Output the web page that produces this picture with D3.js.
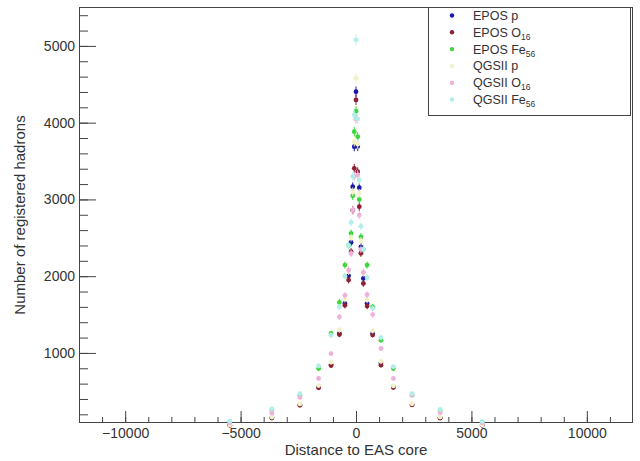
<!DOCTYPE html>
<html><head><meta charset="utf-8">
<script src="https://cdn.jsdelivr.net/npm/d3@7"></script>
<style>
html,body{margin:0;padding:0;background:#fff;}
svg{display:block;font-family:"Liberation Sans",Arial,sans-serif;}
</style></head>
<body>
<svg id="chart" width="640" height="461"></svg>
<script>
// ---- data ----
const distance = [-5468,-3645,-2430,-1620,-1080,-720,-480,-320,-213,-142,-75,0,75,142,213,320,480,720,1080,1620,2430,3645,5468];
const eposP  = [60,160,327,557,850,1253,1645,2005,2440,3166,3687,4404,3690,3153,2383,1971,1645,1253,870,557,327,158,62];
const eposO  = [58,152,318,545,835,1240,1620,1949,2318,2860,3405,4296,3361,2905,2300,1906,1610,1235,840,548,322,150,57];
const eposFe = [100,255,449,797,1253,1658,2144,2400,2558,3048,3883,4150,3818,3000,2513,2350,2144,1600,1166,797,449,250,98];
const qgsP   = [62,165,335,575,880,1300,1700,2060,2500,3100,3750,4579,3720,3080,2460,2040,1690,1290,890,570,338,165,62];
const qgsO   = [88,215,420,667,992,1470,1750,2080,2297,2862,3300,4048,3320,2796,2350,2050,1760,1500,1058,667,449,220,90];
const qgsFe  = [110,270,470,830,1230,1600,2000,2400,2700,3300,4100,5079,4050,3250,2650,2350,1980,1580,1200,820,470,265,108];
const seriesNames = ["EPOS p","EPOS O","EPOS Fe","QGSII p","QGSII O","QGSII Fe"];
const seriesSubs  = ["","16","56","","16","56"];
const seriesColors = ["#1a1aa8","#8e2035","#3dd63d","#f2f2c8","#f0b0dc","#b0eeea"];
const seriesValues = [eposP,eposO,eposFe,qgsP,qgsO,qgsFe];
const xMajorTicks = [-10000,-5000,0,5000,10000];
const yMajorTicks = [1000,2000,3000,4000,5000];

// ---- layout ----
const L = 79, R = 633, T = 7, B = 423;
const svg = d3.select("#chart");
const x = d3.scaleLinear().domain([-12000,12000]).range([L,R]);
const y = d3.scaleLinear().domain([87,5507]).range([B,T]);
const axisCol = "#444";

// frame
svg.append("rect").attr("x",L+0.5).attr("y",T+0.5).attr("width",R-L-1).attr("height",B-T-1)
  .attr("fill","none").attr("stroke",axisCol).attr("stroke-width",1);

// x axis ticks (inward)
const xMinor = d3.range(-11000,11001,1000);
const gx = svg.append("g").attr("transform",`translate(0,${B})`);
gx.call(d3.axisBottom(x).tickValues(xMinor).tickSize(-6).tickFormat(""))
  .call(g=>g.select(".domain").remove())
  .call(g=>g.selectAll("line").attr("stroke",axisCol));
const gx2 = svg.append("g").attr("transform",`translate(0,${B})`);
gx2.call(d3.axisBottom(x).tickValues(xMajorTicks).tickSize(-12).tickPadding(5).tickFormat(d=>d3.format("d")(d).replace("-","\u2212")))
  .call(g=>g.select(".domain").remove())
  .call(g=>g.selectAll("line").attr("stroke",axisCol))
  .call(g=>g.selectAll("text").attr("fill","#333").attr("font-size",14).attr("font-family","Liberation Sans, Arial, sans-serif"));

// y axis ticks (inward)
const yMinor = d3.range(200,5401,200);
const gy = svg.append("g").attr("transform",`translate(${L},0)`);
gy.call(d3.axisLeft(y).tickValues(yMinor).tickSize(-9).tickFormat(""))
  .call(g=>g.select(".domain").remove())
  .call(g=>g.selectAll("line").attr("stroke",axisCol));
const gy2 = svg.append("g").attr("transform",`translate(${L},0)`);
gy2.call(d3.axisLeft(y).tickValues(yMajorTicks).tickSize(-17).tickPadding(4).tickFormat(d3.format("d")))
  .call(g=>g.select(".domain").remove())
  .call(g=>g.selectAll("line").attr("stroke",axisCol))
  .call(g=>g.selectAll("text").attr("fill","#333").attr("font-size",14).attr("font-family","Liberation Sans, Arial, sans-serif"));

// axis titles
svg.append("text").attr("x",(L+R)/2).attr("y",455).attr("text-anchor","middle")
  .attr("font-size",15).attr("fill","#333").text("Distance to EAS core");
svg.append("text").attr("transform",`translate(25,${(T+B)/2}) rotate(-90)`).attr("text-anchor","middle")
  .attr("font-size",15).attr("fill","#333").text("Number of registered hadrons");

// data points with error bars
seriesValues.forEach((vals,si)=>{
  const g = svg.append("g");
  const pts = distance.map((d,i)=>({d, v: vals[i]}));
  g.selectAll("line").data(pts).join("line")
    .attr("x1",p=>x(p.d)).attr("x2",p=>x(p.d))
    .attr("y1",p=>y(p.v+Math.sqrt(p.v))).attr("y2",p=>y(p.v-Math.sqrt(p.v)))
    .attr("stroke",seriesColors[si]).attr("stroke-width",1);
  g.selectAll("circle").data(pts).join("circle")
    .attr("cx",p=>x(p.d)).attr("cy",p=>y(p.v)).attr("r",2.4)
    .attr("fill",seriesColors[si]);
});

// legend
const lg = svg.append("g");
lg.append("rect").attr("x",428.5).attr("y",7.5).attr("width",202).attr("height",108)
  .attr("fill","#fff").attr("stroke",axisCol).attr("stroke-width",1);
const rowY = d3.scaleLinear().domain([0,5]).range([15.5,99.5]);
seriesNames.forEach((n,i)=>{
  lg.append("circle").attr("cx",452).attr("cy",rowY(i)).attr("r",2.2).attr("fill",seriesColors[i]);
  const t = lg.append("text").attr("x",473).attr("y",rowY(i)+4.5).attr("font-size",12.5).attr("fill","#333");
  t.append("tspan").text(n);
  if (seriesSubs[i]) t.append("tspan").attr("dy",3).attr("font-size",8.5).text(seriesSubs[i]);
});
</script>
</body></html>
